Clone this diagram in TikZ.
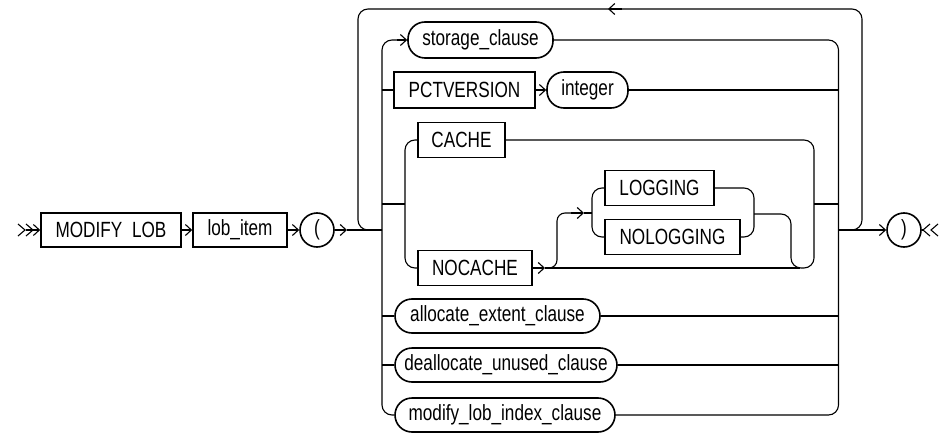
\documentclass[tikz,border=0pt]{standalone}
\usepackage{fontspec}
\setmainfont{Liberation Sans}[FakeStretch=0.78]
\usetikzlibrary{arrows.meta}
\begin{document}
\begin{tikzpicture}[x=1pt,y=-1pt,line width=1.1pt,
  box/.style={draw,line width=1.6pt,minimum height=35pt,inner sep=0pt,font=\fontsize{22}{26}\selectfont},
  oval/.style={box,rounded corners=17pt},
  circ/.style={draw,circle,line width=1.6pt,minimum size=34pt,inner sep=0pt,font=\fontsize{22}{26}\selectfont},
  arr/.style={-{Straight Barb[length=6pt,width=11pt]}},
  rc/.style={rounded corners=10pt}]
\useasboundingbox (0,0) rectangle (944,433);
% nodes
\node[box,minimum width=140pt,minimum height=34pt] (mod) at (111,230) {MODIFY\hspace*{5pt} LOB};
\node[box,minimum width=94pt,minimum height=34pt] (item) at (240,230) {lob\_item};
\node[circ] (lp) at (317,230) {(};
\node[oval,minimum width=145pt,minimum height=36pt] (st) at (480.5,40) {storage\_clause};
\node[box,minimum width=141pt,minimum height=36pt] (pct) at (464.5,90) {PCTVERSION};
\node[oval,minimum width=81pt,minimum height=36pt] (int) at (587.5,90) {integer};
\node[box,minimum width=87pt] (cache) at (461.5,140) {CACHE};
\node[box,minimum width=114pt] (nocache) at (475,268) {NOCACHE};
\node[box,minimum width=109pt] (log) at (659.5,188) {LOGGING};
\node[box,minimum width=135pt] (nolog) at (672.5,237) {NOLOGGING};
\node[oval,minimum width=205pt,minimum height=34pt] (alloc) at (497.5,316) {allocate\_extent\_clause};
\node[oval,minimum width=222pt,minimum height=34pt] (dealloc) at (506,365) {deallocate\_unused\_clause};
\node[oval,minimum width=220pt,minimum height=34pt] (modidx) at (505,415) {modify\_lob\_index\_clause};
\node[circ] (rp) at (904,230) {)};
% coordinates
\coordinate (s1) at (26,230);
\coordinate (a1) at (347,230);
\coordinate (L) at (382,230);
\coordinate (R) at (838.5,230);
\coordinate (stin) at (397,40);
\coordinate (la) at (622,9);
\coordinate (lb) at (608,9);
\coordinate (cgl) at (382,204);
\coordinate (cg) at (405,204);
\coordinate (cgo) at (814,204);
\coordinate (cgr) at (838.5,204);
\coordinate (nf) at (545,268);
\coordinate (nb) at (800,268);
\coordinate (lga) at (571,213);
\coordinate (lgi) at (584,213);
\coordinate (lgs) at (592,213);
% start marker
\draw (18,224) -- (25,230) -- (18,236);
\draw (26,224) -- (33,230) -- (26,236);
\draw[arr] (s1) -- (mod.west);
\draw[arr] (mod.east) -- (item.west);
\draw[arr] (item.east) -- (lp.west);
\draw[arr] (lp.east) -- (a1);
\draw (a1) -- (L);
% repeat loop
\draw[rc] (R) -- (862,230) -- (862,9) -- (358,9) -- (358,230) -- (L);
\draw[arr] (la) -- (lb);
% left rail
\draw[rc] (stin) -- (382,40) -- (382,415) -- (modidx.west);
\draw[arr] (stin) -- (st.west);
\draw (pct.west -| L) -- (pct.west);
\draw[arr] (pct.east) -- (int.west);
\draw (alloc.west -| L) -- (alloc.west);
\draw (dealloc.west -| L) -- (dealloc.west);
% right rail
\draw[rc] (st.east) -- (838.5,40) -- (838.5,415) -- (modidx.east);
\draw (int.east) -- (int.east -| R);
\draw (alloc.east) -- (alloc.east -| R);
\draw (dealloc.east) -- (dealloc.east -| R);
\draw[arr] (R) -- (rp.west);
% end marker
\draw (rp.east) -- (923,230);
\draw (930,224) -- (923,230) -- (930,236);
\draw (938,224) -- (931,230) -- (938,236);
% cache group
\draw (cgl) -- (cg);
\draw[rc] (cache.west) -- (405,140) -- (405,268) -- (nocache.west);
\draw[rc] (cache.east) -- (814,140) -- (814,268) -- (791,268) -- (791,214) -- (754,214);
\draw (cgo) -- (cgr);
\draw[arr] (nocache.east) -- (nf);
\draw (nf) -- (nb);
\draw[rounded corners=8pt] (nf) -- (557,268) -- (557,213) -- (lga);
\draw[arr] (lga) -- (lgi);
\draw (lgi) -- (lgs);
\draw[rc] (log.west) -- (592,188) -- (592,237) -- (nolog.west);
\draw[rc] (log.east) -- (754,188) -- (754,237) -- (nolog.east);
\end{tikzpicture}
\end{document}
